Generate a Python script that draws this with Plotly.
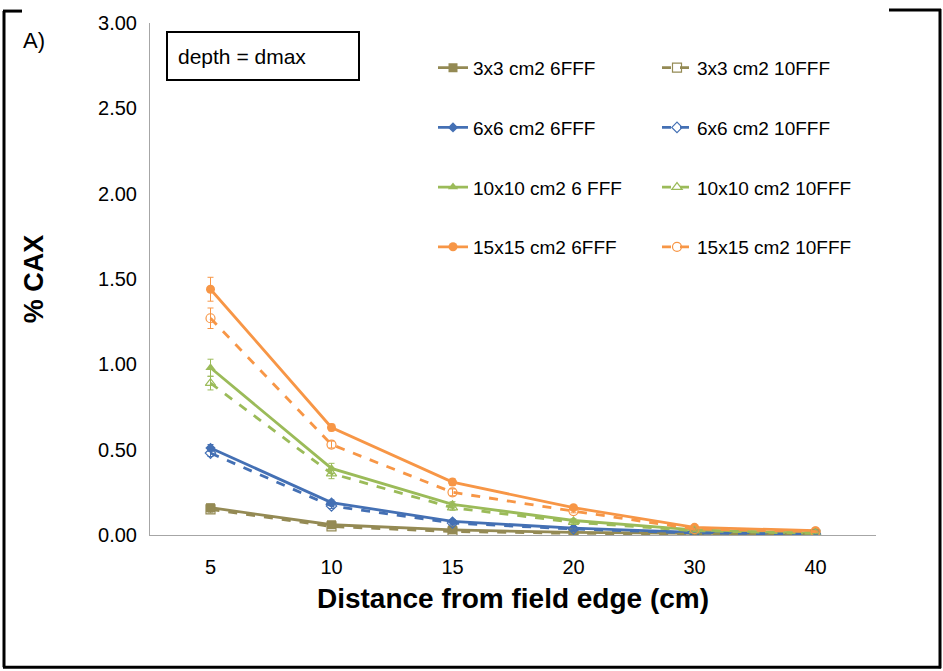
import plotly.graph_objects as go

categories = ["5", "10", "15", "20", "30", "40"]

s3_6 = [0.16, 0.06, 0.03, 0.015, 0.01, 0.005]
s3_10 = [0.15, 0.05, 0.02, 0.01, 0.005, 0.003]
s6_6 = [0.51, 0.19, 0.08, 0.04, 0.015, 0.01]
s6_10 = [0.48, 0.17, 0.07, 0.035, 0.012, 0.005]
s10_6 = [0.98, 0.39, 0.18, 0.085, 0.03, 0.01]
s10_10 = [0.89, 0.36, 0.16, 0.075, 0.025, 0.01]
s15_6 = [1.44, 0.63, 0.31, 0.16, 0.045, 0.025]
s15_10 = [1.27, 0.53, 0.25, 0.14, 0.035, 0.02]

e3_6 = [0.02, 0.01, 0.01, 0.005, 0.003, 0.002]
e3_10 = [0.02, 0.01, 0.01, 0.005, 0.003, 0.002]
e6_6 = [0.02, 0.015, 0.01, 0.005, 0.003, 0.002]
e6_10 = [0.02, 0.015, 0.01, 0.005, 0.003, 0.002]
e10_6 = [0.05, 0.03, 0.015, 0.01, 0.005, 0.003]
e10_10 = [0.04, 0.03, 0.015, 0.01, 0.005, 0.003]
e15_6 = [0.07, 0.02, 0.02, 0.01, 0.005, 0.003]
e15_10 = [0.06, 0.02, 0.02, 0.01, 0.005, 0.003]

names_6 = ["3x3 cm2 6FFF", "6x6 cm2 6FFF", "10x10 cm2 6 FFF", "15x15 cm2 6FFF"]
names_10 = ["3x3 cm2 10FFF", "6x6 cm2 10FFF", "10x10 cm2 10FFF", "15x15 cm2 10FFF"]

colors = ["#948A54", "#4470B4", "#9BBB59", "#F79646"]
symbols = ["square", "diamond", "triangle-up", "circle"]

data6 = [s3_6, s6_6, s10_6, s15_6]
data10 = [s3_10, s6_10, s10_10, s15_10]
err6 = [e3_6, e6_6, e10_6, e15_6]
err10 = [e3_10, e6_10, e10_10, e15_10]

FONT = "Liberation Sans, Arial, sans-serif"

fig = go.Figure()
for i in range(4):
    fig.add_trace(go.Scatter(
        x=categories, y=data6[i], name=names_6[i], mode="lines+markers",
        line=dict(color=colors[i], width=2.8),
        marker=dict(symbol=symbols[i], size=9 if symbols[i] != "diamond" else 8, color=colors[i]),
        error_y=dict(type="data", array=err6[i], color=colors[i], thickness=1, width=3),
        legend="legend", legendgroup="a%d" % i,
    ))
for i in range(4):
    fig.add_trace(go.Scatter(
        x=categories, y=data10[i], name=names_10[i], mode="lines+markers",
        line=dict(color=colors[i], width=2.8, dash="dash"),
        marker=dict(symbol=symbols[i] + "-open", size=9 if symbols[i] != "diamond" else 8,
                    color=colors[i], line=dict(width=1.2)),
        error_y=dict(type="data", array=err10[i], color=colors[i], thickness=1, width=3),
        legend="legend2", legendgroup="b%d" % i,
    ))

L, R, T, B = 150, 67, 20, 136
W, H = 943, 671
pw, ph = W - L - R, H - T - B

def px(x):
    return (x - L) / pw

def py(y):
    return (H - B - y) / ph

border = dict(color="black", width=3)
shapes = [
    dict(type="line", xref="paper", yref="paper", x0=px(4), x1=px(4), y0=py(8), y1=py(668), line=border),
    dict(type="line", xref="paper", yref="paper", x0=px(3), x1=px(22), y0=py(8), y1=py(8), line=border),
    dict(type="line", xref="paper", yref="paper", x0=px(889), x1=px(941), y0=py(7), y1=py(7), line=border),
    dict(type="line", xref="paper", yref="paper", x0=px(940), x1=px(940), y0=py(6), y1=py(669), line=border),
    dict(type="line", xref="paper", yref="paper", x0=px(3), x1=px(941), y0=py(668), y1=py(668), line=border),
]

legend_common = dict(
    font=dict(family=FONT, size=19, color="#000000"),
    bgcolor="rgba(0,0,0,0)", tracegroupgap=32, itemwidth=30,
    xanchor="left", yanchor="top", traceorder="grouped",
)

fig.update_layout(
    width=W, height=H,
    margin=dict(l=L, r=R, t=T, b=B),
    paper_bgcolor="white", plot_bgcolor="white",
    font=dict(family=FONT, size=19, color="#000000"),
    showlegend=True,
    legend=dict(x=px(433), y=py(46), **legend_common),
    legend2=dict(x=px(657), y=py(46), **legend_common),
    xaxis=dict(
        type="category", range=[-0.5, 5.5], showline=True, linecolor="#A6A6A6", linewidth=1,
        showgrid=False, zeroline=False, ticks="", ticklabelstandoff=14,
        tickfont=dict(family=FONT, size=20, color="#000000"),
        title=dict(text="<b>Distance from field edge (cm)</b>", font=dict(family=FONT, size=28, color="#000000"), standoff=11),
    ),
    yaxis=dict(
        range=[0, 3.0], dtick=0.5, tickformat=".2f", showline=True, linecolor="#A6A6A6", linewidth=1,
        showgrid=False, zeroline=False, ticks="", ticklabelstandoff=8,
        tickfont=dict(family=FONT, size=20, color="#000000"),
        title=dict(text="<b>% CAX</b>", font=dict(family=FONT, size=27, color="#000000"), standoff=46),
    ),
    shapes=shapes,
    annotations=[
        dict(text="A)", xref="paper", yref="paper", x=px(21), y=py(38), xanchor="left", yanchor="middle",
             showarrow=False, font=dict(family=FONT, size=22, color="#000000")),
        dict(text="depth = dmax", xref="paper", yref="paper", x=px(166), y=py(53), xanchor="left", yanchor="middle",
             showarrow=False, font=dict(family=FONT, size=21, color="#000000"),
             bordercolor="black", borderwidth=2, borderpad=10, width=170, height=26, align="left"),
    ],
)

fig.write_html("out.html")
